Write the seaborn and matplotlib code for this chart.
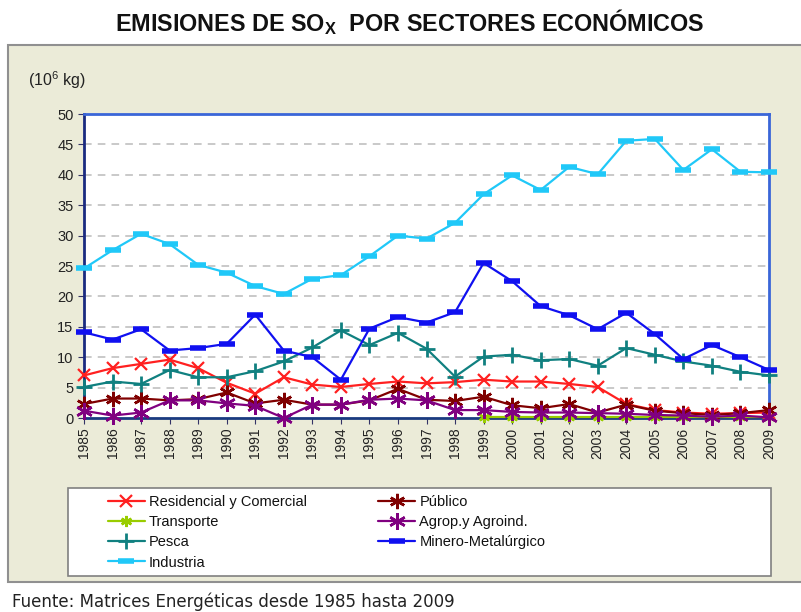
import numpy as np
import pandas as pd
import matplotlib
matplotlib.use('Agg')
import matplotlib.pyplot as plt
from matplotlib.patches import Rectangle
import seaborn as sns

# Data (10^6 kg)
years = list(range(1985, 2010))

residencial = [7.0, 8.2, 8.9, 9.6, 8.2, 5.8, 4.0, 6.7, 5.5, 5.1, 5.6, 6.0, 5.7,
               5.9, 6.3, 6.0, 6.0, 5.6, 5.1, 2.3, 1.3, 0.9, 0.7, 0.8, 0.9]
publico = [2.3, 3.2, 3.2, 2.9, 3.1, 4.2, 2.4, 3.0, 2.2, 2.2, 2.9, 4.8, 3.0,
           2.8, 3.5, 2.1, 1.6, 2.3, 0.9, 2.2, 1.2, 0.8, 0.5, 0.8, 1.3]
transporte = [np.nan] * 14 + [0.1] * 11
agrop = [1.2, 0.4, 0.9, 2.9, 2.9, 2.4, 2.0, 0.0, 2.2, 2.2, 3.0, 3.2, 2.9,
         1.3, 1.3, 1.0, 0.9, 0.9, 0.8, 0.7, 0.5, 0.4, 0.2, 0.4, 0.1]
pesca = [5.1, 6.0, 5.6, 7.9, 6.7, 6.7, 7.7, 9.3, 11.6, 14.4, 12.0, 14.0, 11.4,
         6.8, 10.1, 10.4, 9.5, 9.7, 8.6, 11.5, 10.4, 9.3, 8.6, 7.6, 7.0]
minero = [14.1, 12.9, 14.6, 11.1, 11.5, 12.2, 17.0, 11.1, 10.0, 6.3, 14.7, 16.6, 15.7,
          17.4, 25.5, 22.5, 18.4, 16.9, 14.6, 17.3, 13.8, 9.7, 12.0, 10.0, 7.9]
industria = [24.6, 27.6, 30.3, 28.6, 25.2, 23.9, 21.7, 20.4, 22.9, 23.5, 26.6, 30.0, 29.5,
             32.1, 36.8, 39.9, 37.5, 41.3, 40.1, 45.6, 45.9, 40.8, 44.2, 40.5, 40.4]

series = {
    'Residencial y Comercial': residencial,
    'Público': publico,
    'Transporte': transporte,
    'Agrop.y Agroind.': agrop,
    'Pesca': pesca,
    'Minero-Metalúrgico': minero,
    'Industria': industria,
}

asterisk = (6, 2, 0)
styles = {
    'Residencial y Comercial': dict(color='#FF2020', marker='x', ms=9, mew=1.6),
    'Público': dict(color='#800000', marker=asterisk, ms=11, mew=1.8),
    'Transporte': dict(color='#99CC00', marker=asterisk, ms=8, mew=1.8),
    'Agrop.y Agroind.': dict(color='#800080', marker=asterisk, ms=12, mew=1.8),
    'Pesca': dict(color='#108080', marker='+', ms=11, mew=2),
    'Minero-Metalúrgico': dict(color='#1010F0', marker='_', ms=12, mew=4),
    'Industria': dict(color='#20C8F8', marker='_', ms=12, mew=4),
}

df = pd.DataFrame(series)
df['year'] = years

sns.set_style('white')
plt.rcParams['font.family'] = ['Liberation Sans', 'DejaVu Sans']
plt.rcParams['mathtext.fontset'] = 'custom'
plt.rcParams['mathtext.rm'] = 'Liberation Sans'
plt.rcParams['mathtext.bf'] = 'Liberation Sans:bold'

fig = plt.figure(figsize=(8.01, 6.12), dpi=100, facecolor='white')

# beige panel behind the chart
W, H = 801, 612
fig.patches.append(Rectangle((8 / W, 1 - 582 / H), 1.0, (582 - 45) / H,
                             transform=fig.transFigure, facecolor='#EBEBD8',
                             edgecolor='#909090', linewidth=1.5, zorder=0))
# legend box
fig.patches.append(Rectangle((68 / W, 1 - 576 / H), (771 - 68) / W, (576 - 488) / H,
                             transform=fig.transFigure, facecolor='white',
                             edgecolor='#808080', linewidth=1.2, zorder=1))

ax = fig.add_axes([84 / W, 1 - 418 / H, (769 - 84) / W, (418 - 114) / H])
ax.set_zorder(3)
ax.set_facecolor('white')

handles = {}
for name in series:
    st = styles[name]
    sns.lineplot(data=df, x='year', y=name, ax=ax, color=st['color'], linewidth=1.6,
                 marker=st['marker'], markersize=st['ms'], markeredgewidth=st['mew'],
                 markeredgecolor=st['color'], markerfacecolor=st['color'],
                 label=name, legend=False, clip_on=False, zorder=3)
    handles[name] = ax.lines[-1]

ax.set_xlim(1985, 2009)
ax.set_ylim(0, 50)
ax.set_yticks(range(0, 51, 5))
ax.set_xticks(years)
ax.set_xticklabels([str(y) for y in years], rotation=90, fontsize=10, color='#222222')
ax.tick_params(axis='y', labelsize=10.5, labelcolor='#222222', length=4, direction='out',
               left=True, color='#333366')
ax.tick_params(axis='x', length=4, direction='out', bottom=True, color='#333366', pad=3)
ax.set_xlabel('')
ax.set_ylabel('')

for yv in range(5, 50, 5):
    ax.axhline(yv, color='#BBBBBB', linewidth=1.1, linestyle=(0, (5, 4)), zorder=1)

ax.spines['left'].set_color('#1A2A80')
ax.spines['left'].set_linewidth(2)
ax.spines['bottom'].set_color('#1A3A80')
ax.spines['bottom'].set_linewidth(2)
ax.spines['top'].set_color('#3A66D8')
ax.spines['top'].set_linewidth(2)
ax.spines['right'].set_color('#3A66D8')
ax.spines['right'].set_linewidth(2)

order = ['Residencial y Comercial', 'Transporte', 'Pesca', 'Industria',
         'Público', 'Agrop.y Agroind.', 'Minero-Metalúrgico']
leg = fig.legend([handles[n] for n in order], order, ncol=2, frameon=False,
                 loc='upper left', bbox_to_anchor=(98 / W, 1 - 485 / H),
                 fontsize=10.5, handlelength=2.5, handletextpad=0.3,
                 columnspacing=4.9, labelspacing=0.42, borderaxespad=0.3)
leg.set_zorder(4)
for t in leg.get_texts():
    t.set_color('#111111')

fig.text(410 / W, 1 - 22 / H, r'EMISIONES DE SO$_\mathbf{X}$  POR SECTORES ECONÓMICOS',
         ha='center', va='center', fontsize=16.8, fontweight='bold', color='#111111')
fig.text(28 / W, 1 - 80 / H, r'(10$^6$ kg)', ha='left', va='center', fontsize=11.5,
         color='#222222')
fig.text(12 / W, 1 - 602 / H, 'Fuente: Matrices Energéticas desde 1985 hasta 2009',
         ha='left', va='center', fontsize=12, color='#222222', family='DejaVu Sans')

fig.savefig('out.png', dpi=100, facecolor='white')
